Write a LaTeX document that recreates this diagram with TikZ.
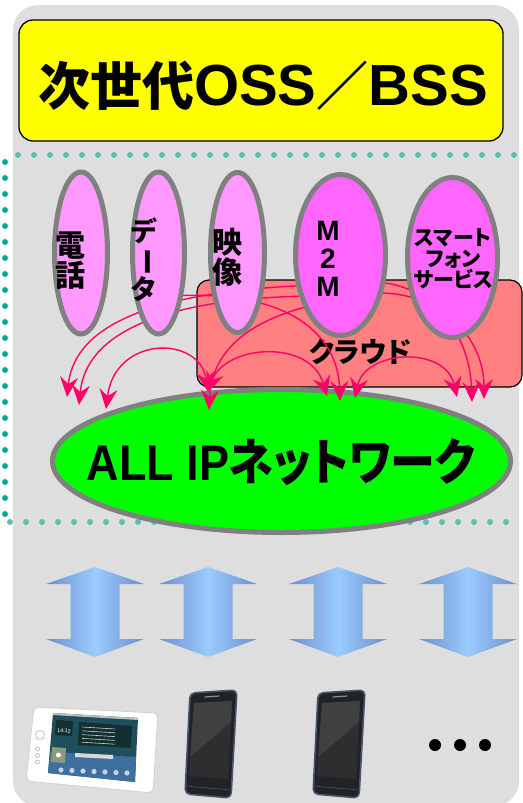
\documentclass[tikz,border=0pt]{standalone}
\usepackage{graphicx}
\usepackage{fontspec}
\setmainfont{Noto Sans CJK JP}
\newfontfamily\jpprop{Noto Sans CJK JP}[RawFeature=+palt]
\newfontfamily\latinfont{Liberation Sans}
\usetikzlibrary{shapes.geometric, arrows.meta}
\definecolor{panelgray}{HTML}{DEDEDE}
\definecolor{titleyellow}{HTML}{FFFF00}
\definecolor{dotteal}{HTML}{62BDB1}
\definecolor{dotdark}{HTML}{00A99D}
\definecolor{svcpink}{HTML}{FF99FF}
\definecolor{svcmagenta}{HTML}{FF66FF}
\definecolor{cloudred}{HTML}{FF8080}
\definecolor{netgreen}{HTML}{00FF00}
\definecolor{rimgray}{HTML}{808080}
\definecolor{linkred}{HTML}{FF0066}
\definecolor{arrownavy}{HTML}{26386F}
\definecolor{arrowmid}{HTML}{6E8ECC}
\definecolor{arrowlight}{HTML}{9ACCFF}
\definecolor{tabscreen}{HTML}{1F4F5C}
\definecolor{tabblue}{HTML}{3F6F9F}
\definecolor{tabpanel}{HTML}{12302F}
\definecolor{photo}{HTML}{8C9A7C}
\definecolor{phonebody}{HTML}{202328}
\definecolor{phonerim}{HTML}{4C5766}
\definecolor{phonescreen}{HTML}{2E2E2E}
\definecolor{phonegloss}{HTML}{404040}
\pgfdeclarehorizontalshading{updown}{100bp}{color(0bp)=(arrownavy); color(25bp)=(arrowmid); color(50bp)=(arrowlight); color(75bp)=(arrowmid); color(100bp)=(arrownavy)}
\pgfdeclarelayer{back}
\pgfdeclarelayer{links}
\pgfsetlayers{back,links,main}

\begin{document}
\begin{tikzpicture}[x=1pt, y=-1pt,
  titlebox/.style={rectangle, rounded corners=14pt, draw=black, line width=1.3pt,
    fill=titleyellow, minimum width=484, minimum height=121, inner sep=0pt},
  cloudbox/.style={rectangle, rounded corners=12pt, draw=black, line width=1.2pt,
    fill=cloudred, minimum width=325, minimum height=107},
  svc/.style={ellipse, draw=rimgray, line width=5pt, inner sep=0pt},
  svctext/.style={font=\bfseries\fontsize{#1}{#1}\selectfont, align=center, inner sep=0pt},
  dotrow/.style={line width=6pt, line cap=round, dash pattern=on 0pt off 16pt},
  barb/.tip={Stealth[length=20pt, width=18pt, inset=7pt]},
  link/.style={-barb, draw=linkred, line width=1.4pt},
  twoway/.style={barb-barb, draw=linkred, line width=1.4pt},
]
\useasboundingbox (0,0) rectangle (522,803);

% service ellipses
\node[svc, fill=svcpink, minimum width=53, minimum height=162] (tel) at (81,253) {};
\node[svc, fill=svcpink, minimum width=52, minimum height=162] (data) at (158.5,253) {};
\node[svc, fill=svcpink, minimum width=54, minimum height=160] (video) at (237.5,252.5) {};
\node[svc, fill=svcmagenta, minimum width=90, minimum height=161] (m2m) at (340.5,255) {};
\node[svc, fill=svcmagenta, minimum width=90, minimum height=160] (smart) at (452.5,257.5) {};

\node[svctext=30] (tel-t) at (70,261) {電\\話};
\node[svctext=27] (data-t) at (144,260) {デ\\\rotatebox[origin=c]{-90}{ー}\\タ};
\node[svctext=30] (video-t) at (227,257) {映\\像};
\node[svctext=28] (m2m-t) at (328,259) {\latinfont M\\\latinfont 2\\\latinfont M};
\node[svctext=21] (smart-t) at (453,259) {\jpprop スマート\\\jpprop フォン\\\jpprop サービス};

\begin{pgfonlayer}{back}
  % panel and title
  \fill[panelgray, rounded corners=25pt] (13,5) rectangle (519,806);
  \node[titlebox] (oss) at (261,80.5) {};
  \node[font=\bfseries, inner sep=0pt] (oss-t) at (263,86)
    {\fontsize{52}{52}\selectfont 次世代{\latinfont\fontsize{58}{58}\selectfont OSS}／{\latinfont\fontsize{58}{58}\selectfont BSS}};
  % dotted frame
  \draw[dotrow, dotteal] (18,155) -- (522,155);
  \draw[dotrow, dotdark] (5,162) -- (5,515);
  \draw[dotrow, dotteal] (10,522) -- (522,522);
  % cloud and network
  \node[cloudbox] (cloud) at (359.5,333.5) {};
  \node[font=\bfseries\jpprop\fontsize{28}{28}\selectfont] (cloud-t) at (360,352) {クラウド};
  \node[svc, fill=netgreen, minimum width=458, minimum height=143] (net) at (281.5,461) {};
  \node[font=\bfseries\fontsize{50}{50}\selectfont] (net-t) at (281,462)
    {\scalebox{0.9}[1]{{\latinfont ALL IP}{\jpprop ネットワーク}}};
\end{pgfonlayer}

% arrow ends above the network
\coordinate (tipA) at (67,397);
\coordinate (tipB) at (79,405);
\coordinate (tipC) at (106,409);
\coordinate (tipD) at (208,392);
\coordinate (tipE) at (209,410);
\coordinate (tipF) at (327,396);
\coordinate (tipG) at (340,401);
\coordinate (tipH) at (355,398);
\coordinate (tipI) at (457,397);
\coordinate (tipJ) at (472,402);
\coordinate (tipK) at (484,399);

\begin{pgfonlayer}{links}
  \draw[link] (m2m.215) .. controls (160,293) and (75,322) .. (tipA);
  \draw[link] (m2m.225) .. controls (165,300) and (86,332) .. (tipB);
  \draw[twoway] (tipC) .. controls (115,335) and (200,335) .. (tipD);
  \draw[link] (m2m.235) .. controls (250,322) and (212,350) .. (tipE);
  \draw[twoway] (tipD) .. controls (225,345) and (310,338) .. (tipF);
  \draw[link] (data.-60) .. controls (290,292) and (338,335) .. (tipG);
  \draw[twoway] (tipH) .. controls (365,350) and (445,345) .. (tipI);
  \draw[link] (m2m.-32) .. controls (435,290) and (470,335) .. (tipJ);
  \draw[link] (m2m.-42) .. controls (445,295) and (484,340) .. (tipK);
\end{pgfonlayer}

% up/down arrows
\foreach \cx in {95,208,338,468}
  \shade[shading=updown] (\cx,567) -- (\cx+49,584) -- (\cx+24.5,584) -- (\cx+24.5,639)
    -- (\cx+49,639) -- (\cx,657) -- (\cx-49,639) -- (\cx-24.5,639) -- (\cx-24.5,584)
    -- (\cx-49,584) -- cycle;

% tablet
\filldraw[fill=white, draw=black!18, line width=0.8pt, rounded corners=5pt]
  (34,707) -- (158,713) -- (153,793) -- (26,781) -- cycle;
\fill[tabscreen] (53,713) -- (138,718) -- (135,782) -- (48,773) -- cycle;
\fill[tabblue] (50,752) -- (136,757) -- (135,782) -- (48,773) -- cycle;
\fill[black!25] (53,713) -- (138,718) -- (138,720) -- (53,715) -- cycle;
\fill[tabpanel] (56,720) -- (73,721) -- (72,736) -- (55,735) -- cycle;
\node[font=\latinfont\fontsize{5.5}{5.5}\selectfont, text=white, rotate=-3, inner sep=0pt] (clock) at (64,731) {14:12};
\fill[tabpanel] (79,722) -- (132,726) -- (131,748) -- (78,745) -- cycle;
\foreach \k in {0,...,4}
  \draw[white!80!black, line width=0.6pt] (82,727+3.8*\k) -- (115,729+3.8*\k);
\fill[photo] (52,747) -- (66,748) -- (65,763) -- (51,762) -- cycle;
\fill[white] (58.5,755) circle (2.5);
\fill[white!85!black] (75,753) -- (113,755) -- (113,759) -- (75,757) -- cycle;
\foreach \k in {0,...,6}
  \fill[white!70!tabblue] (61+11*\k,770+0.5*\k) circle (2.6);
\draw[black!30, line width=0.6pt] (40,735) circle (4.5);
\foreach \k in {0,1,2}
  \draw[black!30, line width=0.6pt] (37.5,749+6.5*\k) circle (2);

% phones
\foreach \dx in {0,128} {
  \filldraw[fill=phonebody, draw=phonerim, line width=1.6pt, rounded corners=5pt]
    (190+\dx,693) -- (237+\dx,690) -- (231+\dx,798) -- (185+\dx,794) -- cycle;
  \fill[phonescreen] (194+\dx,703) -- (232+\dx,701) -- (228+\dx,779) -- (189+\dx,776) -- cycle;
  \fill[phonegloss] (194+\dx,703) -- (232+\dx,701) -- (231+\dx,722) -- (190+\dx,757) -- cycle;
  \draw[black!45, line width=1.2pt, line cap=round] (205+\dx,697) -- (219+\dx,696);
  \draw[phonerim, line width=0.6pt] (186+\dx,786) -- (230+\dx,790);
}

% more devices
\foreach \x in {435,460,485}
  \fill (\x,745) circle (6);
\end{tikzpicture}
\end{document}
